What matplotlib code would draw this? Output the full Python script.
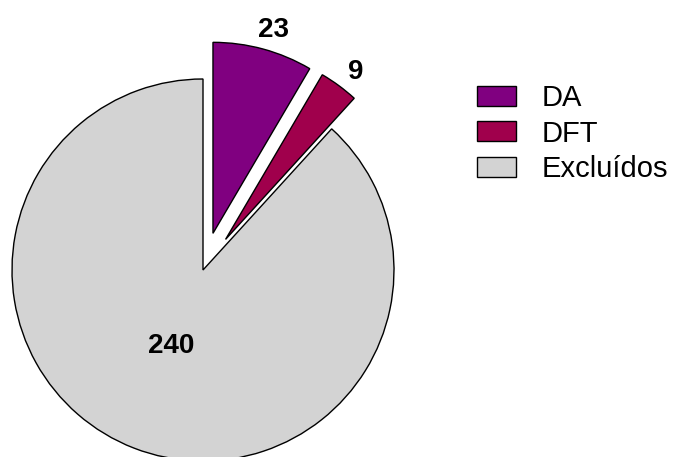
import numpy as np
import matplotlib
matplotlib.use("Agg")
import matplotlib.pyplot as plt

plt.rcParams["font.family"] = ["Liberation Sans", "DejaVu Sans"]

labels = ["DA", "DFT", "Excluídos"]
counts = [23, 9, 240]
colors = ["#800080", "#A0004C", "#D3D3D3"]

W, H = 676, 457
fig = plt.figure(figsize=(W / 100, H / 100), dpi=100)
ax = fig.add_axes([0, 0, 1, 1])

# work in pixel units so the pie sits where we want it
cx, cy, R = 203, H - 270, 191
pull = 38  # px the two small slices are pulled out
explode = [pull if n < 100 else 0 for n in counts]
wedges, _ = ax.pie(counts, colors=colors, explode=explode, startangle=90,
                   counterclock=False, center=(cx, cy), radius=R,
                   wedgeprops=dict(edgecolor="black", linewidth=1.0))

# value labels: small slices outside, the big one inside
for w, n in zip(wedges, counts):
    mid = np.radians((w.theta1 + w.theta2) / 2 - 1.5)
    wx, wy = w.center
    d = 1.11 if n < 100 else 0.43
    ax.text(wx + d * R * np.cos(mid), wy + d * R * np.sin(mid), str(n),
            ha="center", va="center", fontsize=20, fontweight="bold")

ax.set_xlim(0, W)
ax.set_ylim(0, H)
ax.set_aspect("equal")
ax.axis("off")

fig.legend(wedges, labels, loc="upper left",
           bbox_to_anchor=(477 / W, 1 - 84 / H), frameon=False,
           fontsize=21, handlelength=1.35, handleheight=0.68,
           handletextpad=0.85, labelspacing=0.26, borderpad=0,
           borderaxespad=0)

fig.savefig("out.png", dpi=100)
